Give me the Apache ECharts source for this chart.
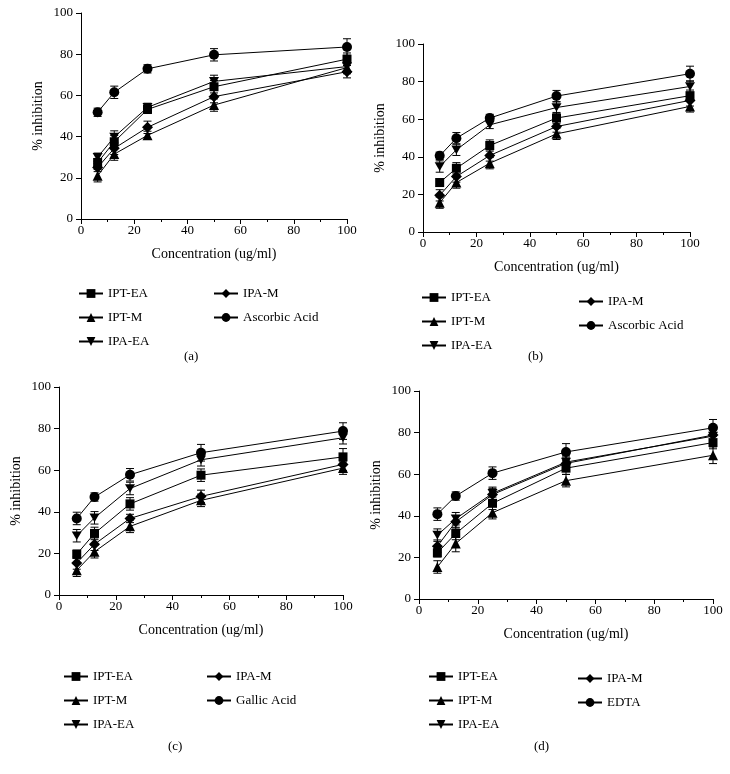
<!DOCTYPE html>
<html>
<head>
<meta charset="utf-8">
<script src="https://cdn.jsdelivr.net/npm/echarts@6/dist/echarts.min.js"></script>
<style>html,body{margin:0;padding:0;background:#fff}#c{width:730px;height:774px}</style>
</head>
<body>
<div id="c"></div>
<script>
// ---------- data ----------
const concentrations = [6.25, 12.5, 25, 50, 100];
const xTicks = [0, 20, 40, 60, 80, 100];
const yTicks = [0, 20, 40, 60, 80, 100];
const sampleNames = ['IPT-EA', 'IPT-M', 'IPA-EA', 'IPA-M'];
const standardNames = ['Ascorbic Acid', 'Ascorbic Acid', 'Gallic Acid', 'EDTA'];
const panelLabels = ['(a)', '(b)', '(c)', '(d)'];
const xAxisTitle = 'Concentration (ug/ml)';
const yAxisTitle = '% inhibition';

// panel (a)
const a_IPT_EA = [27.4, 37.5, 53.2, 64.2, 77.6];
const a_IPT_M  = [21.0, 31.5, 40.6, 55.3, 73.5];
const a_IPA_EA = [30.0, 39.8, 54.2, 66.8, 74.0];
const a_IPA_M  = [25.0, 34.3, 44.5, 59.4, 71.5];
const a_STD    = [51.8, 61.5, 72.9, 79.7, 83.5];
const a_err_IPT_EA = [2, 3, 2, 3, 3];
const a_err_IPT_M  = [3, 3, 2, 3, 3];
const a_err_IPA_EA = [2, 3, 2, 3, 3];
const a_err_IPA_M  = [2, 3, 3, 3, 3];
const a_err_STD    = [2, 3, 2, 3, 4];

// panel (b)
const b_IPT_EA = [26.3, 33.9, 46.0, 60.6, 72.5];
const b_IPT_M  = [15.6, 26.3, 36.6, 52.2, 66.8];
const b_IPA_EA = [34.8, 43.7, 57.0, 66.2, 77.4];
const b_IPA_M  = [19.5, 29.5, 40.7, 56.1, 70.0];
const b_STD    = [40.5, 49.9, 60.6, 72.3, 84.2];
const b_err_IPT_EA = [2, 3, 3, 3, 3];
const b_err_IPT_M  = [3, 3, 3, 3, 3];
const b_err_IPA_EA = [3, 3, 2, 3, 3];
const b_err_IPA_M  = [3, 3, 3, 3, 3];
const b_err_STD    = [2, 3, 2, 3, 4];

// panel (c)
const c_IPT_EA = [19.6, 29.6, 43.8, 57.6, 66.4];
const c_IPT_M  = [11.9, 20.8, 33.0, 45.5, 61.0];
const c_IPA_EA = [28.5, 37.1, 51.2, 65.0, 75.6];
const c_IPA_M  = [15.4, 24.4, 36.8, 47.4, 62.8];
const c_STD    = [36.8, 47.1, 57.8, 68.4, 78.8];
const c_err_IPT_EA = [2, 3, 3, 3, 4];
const c_err_IPT_M  = [3, 3, 3, 3, 3];
const c_err_IPA_EA = [3, 3, 3, 3, 3];
const c_err_IPA_M  = [3, 3, 2, 3, 3];
const c_err_STD    = [3, 2, 3, 4, 4];

// panel (d)
const d_IPT_EA = [22.2, 31.5, 46.0, 62.9, 75.2];
const d_IPT_M  = [15.4, 26.7, 41.5, 56.9, 69.1];
const d_IPA_EA = [30.7, 38.6, 50.8, 65.8, 78.3];
const d_IPA_M  = [25.4, 37.1, 50.2, 65.2, 78.8];
const d_STD    = [40.8, 49.5, 60.5, 70.7, 82.3];
const d_err_IPT_EA = [2, 3, 3, 3, 3];
const d_err_IPT_M  = [3, 4, 3, 3, 4];
const d_err_IPA_EA = [3, 3, 3, 3, 3];
const d_err_IPA_M  = [3, 3, 3, 3, 3];
const d_err_STD    = [3, 2, 3, 4, 4];

const panelValues = [
  [a_IPT_EA, a_IPT_M, a_IPA_EA, a_IPA_M, a_STD],
  [b_IPT_EA, b_IPT_M, b_IPA_EA, b_IPA_M, b_STD],
  [c_IPT_EA, c_IPT_M, c_IPA_EA, c_IPA_M, c_STD],
  [d_IPT_EA, d_IPT_M, d_IPA_EA, d_IPA_M, d_STD]
];
const panelErrors = [
  [a_err_IPT_EA, a_err_IPT_M, a_err_IPA_EA, a_err_IPA_M, a_err_STD],
  [b_err_IPT_EA, b_err_IPT_M, b_err_IPA_EA, b_err_IPA_M, b_err_STD],
  [c_err_IPT_EA, c_err_IPT_M, c_err_IPA_EA, c_err_IPA_M, c_err_STD],
  [d_err_IPT_EA, d_err_IPT_M, d_err_IPA_EA, d_err_IPA_M, d_err_STD]
];

// ---------- layout / style ----------
const FONT = 'Liberation Serif';
const FS = 13;
const NFS = 14;
const grids = [
  {left: 81,  top: 13,  width: 266, height: 206},
  {left: 423, top: 44,  width: 267, height: 188},
  {left: 59,  top: 387, width: 284, height: 208},
  {left: 419, top: 391, width: 294, height: 208}
];
const legendPos = [
  {c1: [78, 287],  c2: [213, 287]},
  {c1: [421, 291], c2: [578, 295]},
  {c1: [63, 670],  c2: [206, 670]},
  {c1: [428, 670], c2: [577, 672]}
];
const labelPos = [[193, 358], [537, 358], [177, 748], [543, 748]];
const symbols = ['rect', 'triangle', 'path://M0,0L20,0L10,17.3Z', 'diamond', 'circle'];
const symbolSizes = [9, 10, 10, 11, 10];

const option = {
  animation: false,
  backgroundColor: '#fff',
  textStyle: {fontFamily: FONT, color: '#000'},
  grid: grids.map(g => Object.assign({containLabel: false}, g)),
  xAxis: grids.map((g, i) => ({
    gridIndex: i, type: 'value', min: xTicks[0], max: xTicks[xTicks.length - 1], interval: xTicks[1] - xTicks[0],
    name: xAxisTitle, nameLocation: 'middle', nameGap: 28,
    nameTextStyle: {fontFamily: FONT, fontSize: NFS, color: '#000'},
    axisLine: {show: true, onZero: false, lineStyle: {color: '#000', width: 1}},
    axisTick: {show: true, inside: false, length: 5, lineStyle: {color: '#000'}},
    minorTick: {show: true, splitNumber: 2, length: 3, lineStyle: {color: '#000'}},
    splitLine: {show: false},
    axisLabel: {fontFamily: FONT, fontSize: FS, color: '#000', margin: 5}
  })),
  yAxis: grids.map((g, i) => ({
    gridIndex: i, type: 'value', min: yTicks[0], max: yTicks[yTicks.length - 1], interval: yTicks[1] - yTicks[0],
    name: yAxisTitle, nameLocation: 'middle', nameGap: 36, nameRotate: 90,
    nameTextStyle: {fontFamily: FONT, fontSize: NFS, color: '#000'},
    axisLine: {show: true, onZero: false, lineStyle: {color: '#000', width: 1}},
    axisTick: {show: true, inside: false, length: 5, lineStyle: {color: '#000'}},
    splitLine: {show: false},
    axisLabel: {fontFamily: FONT, fontSize: FS, color: '#000', margin: 8}
  })),
  legend: [],
  graphic: labelPos.map((p, i) => ({
    type: 'text', left: p[0] - 9, top: p[1] - 8,
    style: {text: panelLabels[i], font: FS + 'px "' + FONT + '"', fill: '#000'}
  })),
  series: []
};

function errRender(params, api) {
  const x = api.value(0), lo = api.value(1), hi = api.value(2);
  const p1 = api.coord([x, hi]), p2 = api.coord([x, lo]);
  const w = 4;
  const st = {stroke: '#000', lineWidth: 1};
  return {type: 'group', children: [
    {type: 'line', shape: {x1: p1[0], y1: p1[1], x2: p2[0], y2: p2[1]}, style: st},
    {type: 'line', shape: {x1: p1[0] - w, y1: p1[1], x2: p1[0] + w, y2: p1[1]}, style: st},
    {type: 'line', shape: {x1: p2[0] - w, y1: p2[1], x2: p2[0] + w, y2: p2[1]}, style: st}
  ]};
}

for (let p = 0; p < 4; p++) {
  const names = sampleNames.concat([standardNames[p]]);
  for (let s = 0; s < 5; s++) {
    option.series.push({
      type: 'custom', xAxisIndex: p, yAxisIndex: p, z: 1, silent: true, clip: false,
      renderItem: errRender,
      encode: {x: 0, y: [1, 2]},
      data: concentrations.map((x, k) => [x, panelValues[p][s][k] - panelErrors[p][s][k], panelValues[p][s][k] + panelErrors[p][s][k]])
    });
  }
  for (let s = 0; s < 5; s++) {
    option.series.push({
      type: 'line', name: names[s], xAxisIndex: p, yAxisIndex: p, z: 3,
      symbol: symbols[s], symbolSize: symbolSizes[s], symbolKeepAspect: true, showSymbol: true,
      lineStyle: {color: '#000', width: 1}, itemStyle: {color: '#000', borderWidth: 0},
      data: concentrations.map((x, k) => [x, panelValues[p][s][k]])
    });
  }
  const lp = legendPos[p];
  const common = {
    orient: 'vertical', itemWidth: 24, itemHeight: 11, itemGap: 11, padding: 0,
    textStyle: {fontFamily: FONT, fontSize: FS, color: '#000'}, selectedMode: false
  };
  option.legend.push(Object.assign({left: lp.c1[0], top: lp.c1[1], data: names.slice(0, 3)}, common));
  option.legend.push(Object.assign({left: lp.c2[0], top: lp.c2[1], data: names.slice(3)}, common));
}

const chart = echarts.init(document.getElementById('c'), null, {renderer: 'canvas'});
chart.setOption(option);
</script>
</body>
</html>
